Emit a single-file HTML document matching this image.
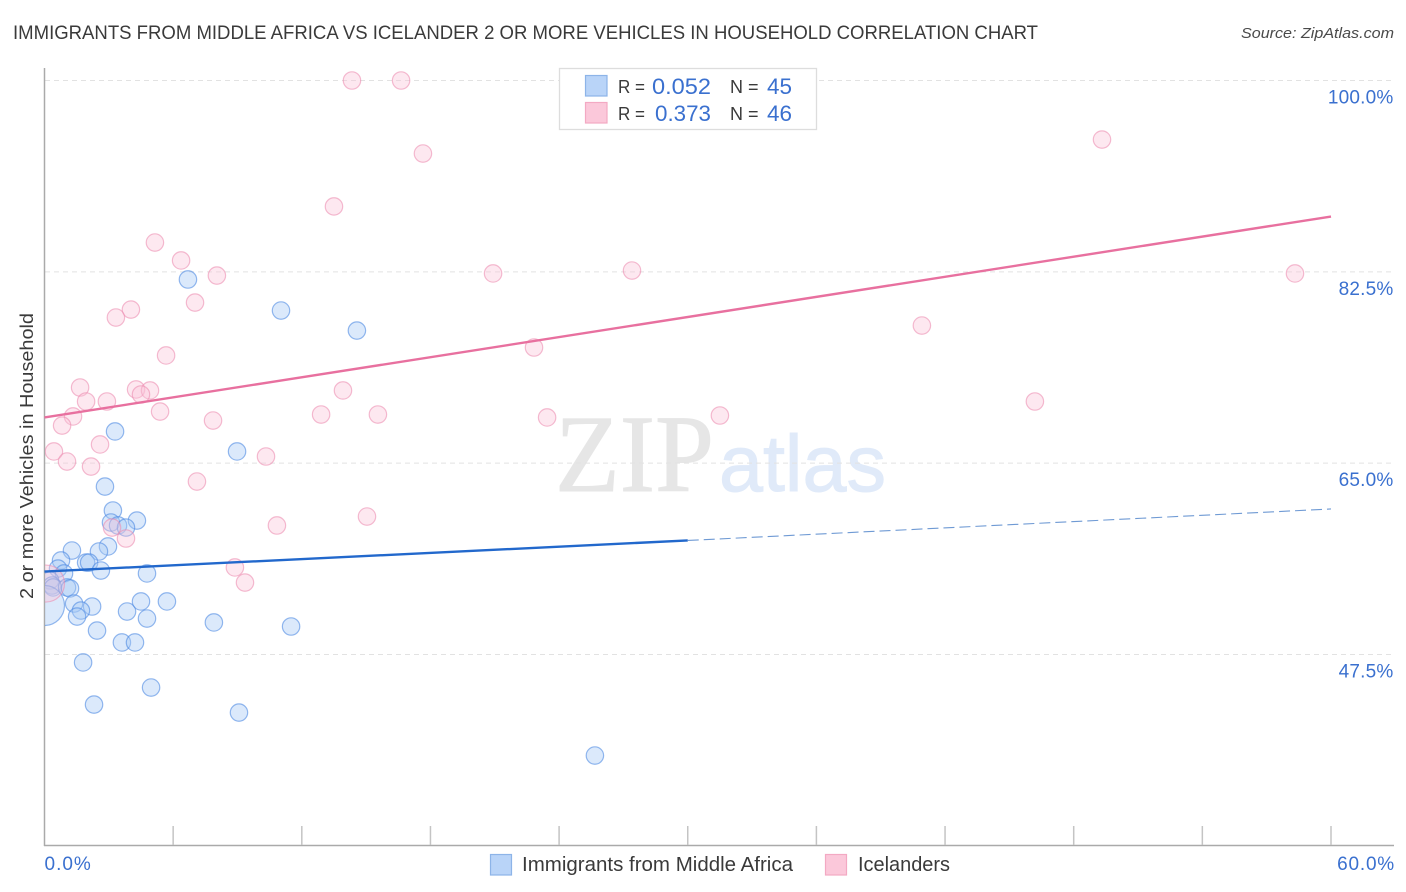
<!DOCTYPE html>
<html lang="en">
<head>
<meta charset="utf-8">
<title>Immigrants from Middle Africa vs Icelander 2 or more Vehicles in Household Correlation Chart</title>
<style>
html,body{margin:0;padding:0;background:#fff;}
body{width:1406px;height:892px;overflow:hidden;}
svg{display:block;font-family:"Liberation Sans",Arial,sans-serif;}
</style>
</head>
<body>
<svg id="chart" xmlns="http://www.w3.org/2000/svg" width="1406" height="892" viewBox="0 0 1406 892">
  <defs>
    <clipPath id="plot-clip"><rect x="45" y="60" width="1349" height="786"/></clipPath>
  </defs>
  <rect x="0" y="0" width="1406" height="892" fill="#ffffff"/>

  <text x="13" y="39" font-size="19.5" fill="#3a3a3a" textLength="1025" lengthAdjust="spacingAndGlyphs">IMMIGRANTS FROM MIDDLE AFRICA VS ICELANDER 2 OR MORE VEHICLES IN HOUSEHOLD CORRELATION CHART</text>
  <text x="1241" y="38" font-size="15" font-style="italic" fill="#4a4a4a" textLength="153" lengthAdjust="spacingAndGlyphs">Source: ZipAtlas.com</text>

  <g>
    <text x="555" y="491" font-family="'Liberation Serif',serif" font-size="110" fill="#e6e6e6" stroke="#e6e6e6" stroke-width="1" textLength="159" lengthAdjust="spacingAndGlyphs">ZIP</text>
    <text x="719" y="491" font-size="80" fill="#e0eaf9" stroke="#e0eaf9" stroke-width="1" textLength="167" lengthAdjust="spacingAndGlyphs">atlas</text>
  </g>

  <g id="grid"></g>
  <g id="axes"></g>
  <g id="points-blue" clip-path="url(#plot-clip)"></g>
  <g id="points-pink" clip-path="url(#plot-clip)"></g>
  <g id="trends"></g>

  <text transform="translate(33,599) rotate(-90)" font-size="18.5" fill="#3a3a3a" textLength="286" lengthAdjust="spacingAndGlyphs">2 or more Vehicles in Household</text>

  <g>
    <rect x="559.5" y="68.5" width="257" height="61" fill="#ffffff" stroke="#dddddd" stroke-width="1.3"/>
    <rect x="585.5" y="75.5" width="21.5" height="20.5" fill="#b9d4f8" stroke="#8db4e8" stroke-width="1.2"/>
    <text x="618" y="93" font-size="18" fill="#3a3a3a" textLength="27" lengthAdjust="spacingAndGlyphs">R =</text>
    <text x="652" y="94" font-size="22" fill="#3a70cf" textLength="59" lengthAdjust="spacingAndGlyphs">0.052</text>
    <text x="730" y="93" font-size="18" fill="#3a3a3a">N =</text>
    <text x="767" y="94" font-size="22" fill="#3a70cf" textLength="25" lengthAdjust="spacingAndGlyphs">45</text>
    <rect x="585.5" y="102.5" width="21.5" height="20.5" fill="#fbc8da" stroke="#f3a9c3" stroke-width="1.2"/>
    <text x="618" y="120" font-size="18" fill="#3a3a3a" textLength="27" lengthAdjust="spacingAndGlyphs">R =</text>
    <text x="655" y="121" font-size="22" fill="#3a70cf" textLength="56" lengthAdjust="spacingAndGlyphs">0.373</text>
    <text x="730" y="120" font-size="18" fill="#3a3a3a">N =</text>
    <text x="767" y="121" font-size="22" fill="#3a70cf" textLength="25" lengthAdjust="spacingAndGlyphs">46</text>
  </g>

  <g>
    <rect x="490.5" y="854.5" width="21" height="20.5" fill="#b9d4f8" stroke="#8db4e8" stroke-width="1.2"/>
    <text x="522" y="871" font-size="20" fill="#3a3a3a" textLength="271" lengthAdjust="spacingAndGlyphs">Immigrants from Middle Africa</text>
    <rect x="825.5" y="854.5" width="21" height="20.5" fill="#fbc8da" stroke="#f3a9c3" stroke-width="1.2"/>
    <text x="858" y="871" font-size="20" fill="#3a3a3a" textLength="92" lengthAdjust="spacingAndGlyphs">Icelanders</text>
  </g>
</svg>

<script>
// Chart data (percent units)
const yTickValues = [100, 82.5, 65, 47.5];
const yTickLabels = ["100.0%", "82.5%", "65.0%", "47.5%"];
const xTickValues = [0, 6, 12, 18, 24, 30, 36, 42, 48, 54, 60];
const xEndLabels = ["0.0%", "60.0%"];

const blueX = [25.67, 6.69, 11.03, 14.57, 3.29, 8.98, 2.82, 3.19, 4.31, 3.10, 3.43, 3.80, 2.96, 2.54, 1.28, 0.77, 1.94, 2.08, 2.63, 4.78, 0.63, 0.91, 0.26, 0.35, 0.40, 1.05, 1.19, 0.00, 1.38, 2.22, 1.70, 1.52, 2.45, 3.85, 4.50, 5.71, 4.78, 7.90, 11.50, 3.61, 4.22, 1.80, 4.97, 2.31, 9.07];
const blueY = [38.26, 81.80, 78.96, 77.13, 67.90, 66.07, 62.86, 60.67, 59.75, 59.57, 59.30, 59.11, 57.38, 56.92, 57.01, 56.10, 55.91, 55.91, 55.18, 54.91, 55.36, 54.91, 54.27, 53.81, 53.63, 53.63, 53.54, 51.98, 52.16, 51.89, 51.52, 50.97, 49.69, 51.43, 52.35, 52.35, 50.79, 50.43, 50.06, 48.60, 48.60, 46.77, 44.48, 42.92, 42.19];
const blueLargestPoint = 27;

const pinkX = [14.34, 16.63, 49.32, 17.65, 13.50, 5.15, 6.37, 8.04, 20.92, 27.40, 58.32, 7.02, 4.03, 3.33, 40.92, 22.83, 5.67, 1.66, 4.27, 4.92, 4.50, 13.92, 1.94, 2.91, 46.19, 1.33, 5.39, 12.90, 15.55, 23.44, 31.50, 7.86, 0.82, 0.44, 2.59, 1.05, 10.33, 2.17, 7.11, 15.04, 10.84, 3.15, 3.80, 8.88, 9.35, 0.07];
const pinkY = [100, 100, 94.60, 93.32, 88.48, 85.18, 83.54, 82.16, 82.35, 82.62, 82.35, 79.69, 79.05, 78.32, 77.59, 75.58, 74.85, 71.92, 71.74, 71.65, 71.28, 71.65, 70.64, 70.64, 70.64, 69.27, 69.72, 69.45, 69.45, 69.18, 69.36, 68.90, 68.44, 66.07, 66.71, 65.15, 65.61, 64.69, 63.32, 60.12, 59.30, 59.11, 58.11, 55.46, 54.08, 53.99];
const pinkLargestPoint = 45;

const blueTrendSolidX = [0, 30];
const blueTrendSolidY = [55.09, 57.93];
const blueTrendDashedX = [30, 60];
const blueTrendDashedY = [57.93, 60.81];
const pinkTrendX = [0, 60];
const pinkTrendY = [69.18, 87.56];

// Axis functions
function xScale(v) { return 44.5 + v * (1331 - 44.5) / 60; }
function yScale(v) { return 80.5 + (100 - v) * (654.5 - 80.5) / 52.5; }

const NS = 'http://www.w3.org/2000/svg';
function make(tag, parent, attrs) {
  const el = document.createElementNS(NS, tag);
  for (const k in attrs) el.setAttribute(k, attrs[k]);
  parent.appendChild(el);
  return el;
}

const grid = document.getElementById('grid');
const axes = document.getElementById('axes');
const blueLayer = document.getElementById('points-blue');
const pinkLayer = document.getElementById('points-pink');
const trends = document.getElementById('trends');

yTickValues.forEach(function (v, i) {
  const y = yScale(v);
  const line = make('line', grid, { x1: 45, x2: 1393, y1: y, y2: y, stroke: '#e2e2e2', 'stroke-width': 1, 'stroke-dasharray': '5 4' });
  
  
  const label = make('text', axes, { x: 1393.5, y: y + 23, 'font-size': 19, fill: '#3a70cf', 'text-anchor': 'end', 'letter-spacing': '0.2' });
  label.textContent = yTickLabels[i];
  
  
});

const yAxisLine = make('line', axes, { x1: 44.5, x2: 44.5, y1: 68, y2: 846, stroke: '#aaaaaa', 'stroke-width': 1.5 });


const xAxisLine = make('line', axes, { x1: 44, x2: 1394, y1: 845.5, y2: 845.5, stroke: '#aaaaaa', 'stroke-width': 1.5 });



xTickValues.slice(1).forEach(function (v) {
  const tick = make('line', axes, { x1: xScale(v), x2: xScale(v), y1: 826, y2: 845, stroke: '#c4c4c4', 'stroke-width': 1.5 });
  
  
});

const xLabelLeft = make('text', axes, { x: 44.5, y: 870, 'font-size': 19, fill: '#3a70cf', 'letter-spacing': '1' });
xLabelLeft.textContent = xEndLabels[0];


const xLabelRight = make('text', axes, { x: 1395, y: 870, 'font-size': 19, fill: '#3a70cf', 'text-anchor': 'end', 'letter-spacing': '0.8' });
xLabelRight.textContent = xEndLabels[1];



blueX.forEach(function (v, i) {
  const c = make('circle', blueLayer, { cx: xScale(v), cy: yScale(blueY[i]), r: i === blueLargestPoint ? 20 : 8.7, fill: 'rgba(165,200,245,0.40)', stroke: 'rgba(72,135,225,0.58)', 'stroke-width': 1.2 });
  
  
});

pinkX.forEach(function (v, i) {
  const c = make('circle', pinkLayer, { cx: xScale(v), cy: yScale(pinkY[i]), r: i === pinkLargestPoint ? 18.5 : 8.7, fill: 'rgba(249,195,215,0.38)', stroke: 'rgba(236,140,175,0.58)', 'stroke-width': 1.2 });
  
  
});

const pinkTrend = make('line', trends, { x1: xScale(pinkTrendX[0]), y1: yScale(pinkTrendY[0]), x2: xScale(pinkTrendX[1]), y2: yScale(pinkTrendY[1]), stroke: '#e8709f', 'stroke-width': 2.4 });



const blueSolid = make('line', trends, { x1: xScale(blueTrendSolidX[0]), y1: yScale(blueTrendSolidY[0]), x2: xScale(blueTrendSolidX[1]), y2: yScale(blueTrendSolidY[1]), stroke: '#2268cc', 'stroke-width': 2.4 });



const blueDashed = make('line', trends, { x1: xScale(blueTrendDashedX[0]), y1: yScale(blueTrendDashedY[0]), x2: xScale(blueTrendDashedX[1]), y2: yScale(blueTrendDashedY[1]), stroke: '#6f9ad4', 'stroke-width': 1.1, 'stroke-dasharray': '11 5' });


</script>
</body>
</html>
